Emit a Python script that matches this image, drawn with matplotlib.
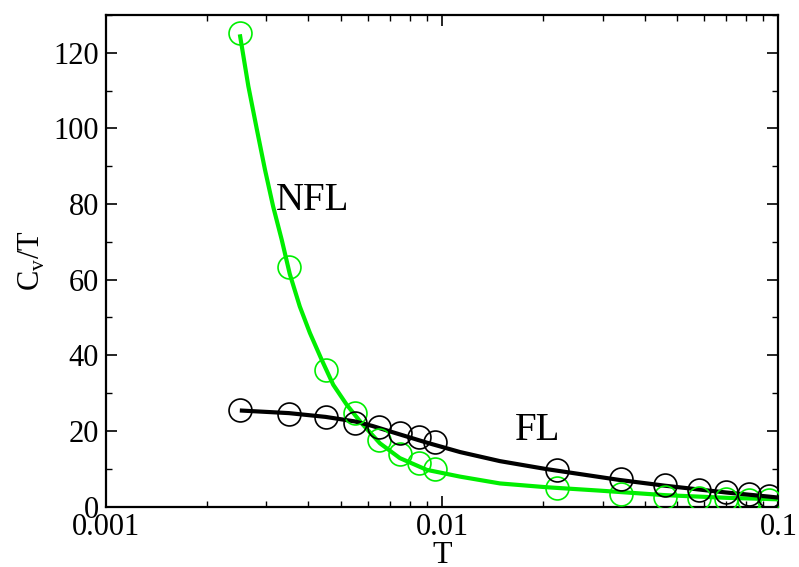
import numpy as np
import matplotlib
matplotlib.use("Agg")
import matplotlib.pyplot as plt
from matplotlib.ticker import LogLocator, NullFormatter, MultipleLocator, FixedFormatter, FixedLocator

plt.rcParams['font.family'] = ['Liberation Serif', 'DejaVu Serif']
plt.rcParams['mathtext.fontset'] = 'custom'
plt.rcParams['mathtext.rm'] = 'Liberation Serif'

# Data points (markers)
T_pts = [0.0025, 0.0035, 0.0045, 0.0055, 0.0065, 0.0075, 0.0085, 0.0095,
         0.022, 0.034, 0.046, 0.058, 0.070, 0.082, 0.094]
nfl_pts = [125.2, 63.3, 36.0, 24.7, 17.6, 14.0, 11.5, 10.0,
           4.8, 3.3, 2.6, 2.3, 1.9, 1.7, 1.6]
fl_pts = [25.4, 24.5, 23.8, 22.2, 20.9, 19.4, 18.3, 17.0,
          9.7, 7.2, 5.7, 4.4, 3.9, 3.3, 2.8]

# Fit curves
T_nfl_fit = [0.0025, 0.00265, 0.00281, 0.00297, 0.00314, 0.00333, 0.00352,
             0.00377, 0.00404, 0.00438, 0.00474, 0.0052, 0.00576, 0.00653,
             0.00748, 0.00899, 0.0113, 0.01485, 0.0204, 0.0294, 0.046,
             0.070, 0.1]
nfl_fit = [124.9, 111.2, 99.7, 89.1, 79.4, 70.6, 61.5,
           52.9, 45.9, 38.8, 32.2, 26.9, 22.0, 16.7,
           12.8, 9.7, 7.9, 6.1, 5.1, 4.2, 3.0,
           2.3, 1.9]
T_fl_fit = [0.0025, 0.0035, 0.0045, 0.0055, 0.0062, 0.00715, 0.00899,
            0.0113, 0.01485, 0.0204, 0.0294, 0.0338, 0.046, 0.058, 0.070,
            0.094, 0.1]
fl_fit = [25.4, 24.7, 23.7, 22.5, 21.3, 19.6, 16.9,
          14.4, 12.0, 9.9, 7.8, 7.0, 5.5, 4.5, 3.7,
          2.6, 2.35]

x_ticks = [0.001, 0.01, 0.1]
x_ticklabels = ['0.001', '0.01', '0.1']
y_ticks = [0, 20, 40, 60, 80, 100, 120]

green = '#00ee00'

fig = plt.figure(figsize=(7.99, 5.67), dpi=100)
ax = fig.add_axes([0.1327, 0.1067, 0.8416, 0.8668])

ax.plot(T_nfl_fit, nfl_fit, color=green, lw=3.0, zorder=3, solid_capstyle='butt',
        solid_joinstyle='round')
ax.plot(T_fl_fit, fl_fit, color='black', lw=3.0, zorder=3, solid_capstyle='butt',
        solid_joinstyle='round')
ax.plot(T_pts, nfl_pts, 'o', ms=16.5, mfc='none', mec=green, mew=1.2, zorder=4)
ax.plot(T_pts, fl_pts, 'o', ms=16.5, mfc='none', mec='black', mew=1.2, zorder=4)

ax.set_xscale('log')
ax.set_xlim(0.001, 0.1)
ax.set_ylim(0, 130)

ax.xaxis.set_major_locator(FixedLocator(x_ticks))
ax.xaxis.set_major_formatter(FixedFormatter(x_ticklabels))
ax.xaxis.set_minor_locator(LogLocator(base=10, subs=np.arange(2, 10)))
ax.xaxis.set_minor_formatter(NullFormatter())
ax.yaxis.set_major_locator(FixedLocator(y_ticks))
ax.yaxis.set_minor_locator(MultipleLocator(10))

ax.tick_params(which='both', direction='in', top=True, right=True, labelsize=22)
ax.tick_params(which='major', length=8, width=1.2, pad=5)
ax.tick_params(which='minor', length=4.5, width=1.0)
for s in ax.spines.values():
    s.set_linewidth(1.6)

ax.set_xlabel('T', fontsize=23, labelpad=-1)
ax.set_ylabel('C$_\\mathregular{v}$/T', fontsize=22, labelpad=5)

ax.text(0.0032, 81, 'NFL', fontsize=28, ha='left', va='center')
ax.text(0.0165, 20, 'FL', fontsize=28, ha='left', va='center')

fig.savefig('out.png', dpi=100)
